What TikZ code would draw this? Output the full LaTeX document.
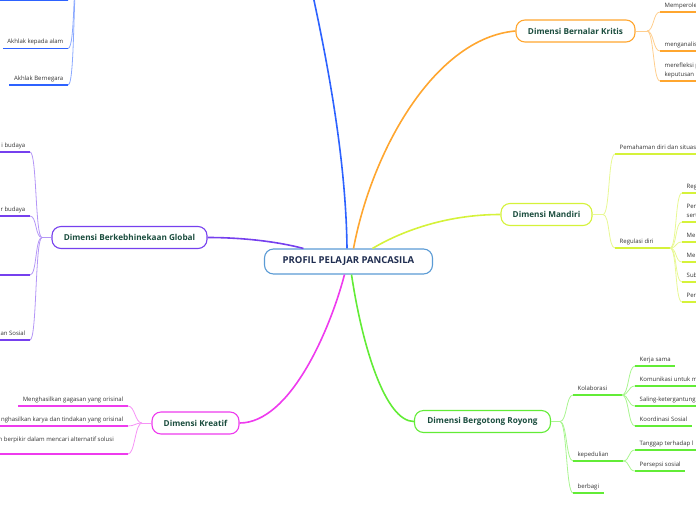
\documentclass[tikz,border=0pt]{standalone}
\usepackage{fontspec}
\setmainfont{Open Sans}
\usepackage{xcolor}
\usepackage{tikz}
\usetikzlibrary{positioning}

\definecolor{rootline}{HTML}{5B9BD5}
\definecolor{roottext}{HTML}{1F2D50}
\definecolor{dimtext}{HTML}{1B4D3E}
\definecolor{leaftext}{HTML}{333333}
\definecolor{cBlue}{HTML}{2D62FF}
\definecolor{cOrange}{HTML}{FFA62F}
\definecolor{cLime}{HTML}{D5F23A}
\definecolor{cGreen}{HTML}{62EC36}
\definecolor{cMagenta}{HTML}{EE3BEE}
\definecolor{cPurple}{HTML}{7640EE}

\begin{document}
\begin{tikzpicture}[
  x=1pt, y=-1pt,
  font=\fontsize{6}{9}\selectfont,
  root/.style={draw=rootline, line width=1.1pt, rounded corners=9pt, fill=white,
               minimum width=168pt, minimum height=25pt, inner sep=0pt,
               font=\fontsize{9.5}{11}\selectfont\bfseries, text=roottext},
  dimbox/.style={draw=#1, line width=1.1pt, rounded corners=9pt, fill=white,
               minimum height=22pt, inner sep=0pt,
               font=\fontsize{8.2}{10}\selectfont\bfseries, text=dimtext},
  leafR/.style={anchor=south west, align=left, inner xsep=4.5pt, inner ysep=3pt,
               text depth=1.5pt, text=leaftext},
  leafL/.style={leafR, anchor=south east, align=right},
  trunk/.style={draw=#1, line width=1.6pt},
  twig/.style={draw=#1!55, line width=0.8pt},
  uline/.style={draw=#1, line width=1.8pt},
]
\useasboundingbox (0,0) rectangle (696,520);
\clip (0,0) rectangle (696,520);
\coordinate (rimL) at (-5,0);
\coordinate (rimR) at (701,0);

%% --- Root ---
\node[root] (root) at (348.5,261.5) {PROFIL PELAJAR PANCASILA};

%% --- Dimensions ---
\node[dimbox=cOrange,  minimum width=119pt] (kritis)  at (575.5,31)    {Dimensi Bernalar Kritis};
\node[dimbox=cLime,    minimum width=91pt]  (mandiri) at (546.5,214.5) {Dimensi Mandiri};
\node[dimbox=cGreen,   minimum width=136pt] (gotong)  at (482.5,421.5) {Dimensi Bergotong Royong};
\node[dimbox=cMagenta, minimum width=87pt]  (kreatif) at (195.5,423)   {Dimensi Kreatif};
\node[dimbox=cPurple,  minimum width=155pt] (global)  at (129.5,237.5) {Dimensi Berkebhinekaan Global};
\coordinate (akhlak) at (305,-40);

%% --- Trunks: root -> dimensions ---
\draw[trunk=cBlue]    ([xshift=-1.5pt]root.north) .. controls (346,160) and (328,60) .. (akhlak);
\draw[trunk=cOrange]  ([xshift=5pt]root.north) .. controls (372,150) and (435,38) .. (kritis.west);
\draw[trunk=cLime]    ([xshift=24pt]root.north) .. controls (400,232) and (445,214.5) .. (mandiri.west);
\draw[trunk=cPurple]  ([xshift=-45pt]root.north) .. controls (275,241) and (240,237.5) .. (global.east);
\draw[trunk=cMagenta] ([xshift=-4pt]root.south) .. controls (330,330) and (290,423) .. (kreatif.east);
\draw[trunk=cGreen]   ([xshift=3pt]root.south) .. controls (362,345) and (385,421.5) .. (gotong.west);

%% --- Akhlak (blue, off the top) ---
\coordinate (bj) at (80,-40);
\coordinate (b0) at (68,0);
\node[leafL] (b1) at (68,48.5) {Akhlak kepada alam};
\node[leafL] (b2) at (68,85)   {Akhlak Bernegara};
\foreach \p in {b0,b1.south east,b2.south east}
  \draw[twig=cBlue] (bj) .. controls +(-8,0) and +(8,0) .. (\p);
\draw[uline=cBlue] (b0) -- (b0 -| rimL);
\draw[uline=cBlue] (b1.south east) -- (b1.south west);
\draw[uline=cBlue] (b2.south east) -- (b2.south west);

%% --- Bernalar Kritis ---
\coordinate (kj) at (647,31);
\node[leafR] (k1) at (660,12) {Memperole};
\node[leafR] (k2) at (660,51) {menganalisis};
\node[leafR] (k3) at (660,81) {merefleksi p\\keputusan};
\draw[twig=cOrange] (kritis.east) -- (kj);
\foreach \n in {k1,k2,k3} {
  \draw[twig=cOrange] (kj) .. controls +(7,0) and +(-7,0) .. (\n.south west);
  \draw[uline=cOrange] (\n.south west) -- (\n.south west -| rimR);
}

%% --- Mandiri ---
\coordinate (mj) at (603,214.5);
\coordinate (rj) at (670,248);
\node[leafR] (m1) at (615,154) {Pemahaman diri dan situasi};
\node[leafR] (m2) at (615,248) {Regulasi diri};
\draw[twig=cLime] (mandiri.east) -- (mj);
\foreach \n in {m1,m2}
  \draw[twig=cLime] (mj) .. controls +(7,0) and +(-7,0) .. (\n.south west);
\draw[uline=cLime] (m1.south west) -- (m1.south west -| rimR);
\draw[uline=cLime] (m2.south west) -- (rj);

\node[leafR] (r1) at (682,193) {Reg};
\node[leafR] (r2) at (682,222) {Pen\\sert};
\node[leafR] (r3) at (682,242) {Me};
\node[leafR] (r4) at (682,262) {Me};
\node[leafR] (r5) at (682,282) {Sub};
\node[leafR] (r6) at (682,302) {Per};
\foreach \n in {r1,r2,r3,r4,r5,r6} {
  \draw[twig=cLime] (rj) .. controls +(7,0) and +(-7,0) .. (\n.south west);
  \draw[uline=cLime] (\n.south west) -- (\n.south west -| rimR);
}

%% --- Bergotong Royong ---
\coordinate (gj) at (560,421.5);
\coordinate (kolj) at (622,395);
\coordinate (pedj) at (623,461);
\node[leafR] (g1) at (573,395) {Kolaborasi};
\node[leafR] (g2) at (573,461) {kepedulian};
\node[leafR] (g3) at (573,493) {berbagi};
\draw[twig=cGreen] (gotong.east) -- (gj);
\foreach \n in {g1,g2,g3}
  \draw[twig=cGreen] (gj) .. controls +(7,0) and +(-7,0) .. (\n.south west);
\draw[uline=cGreen] (g1.south west) -- (kolj);
\draw[uline=cGreen] (g2.south west) -- (pedj);
\draw[uline=cGreen] (g3.south west) -- (g3.south east);

\node[leafR] (h1) at (635,366) {Kerja sama};
\node[leafR] (h2) at (635,386) {Komunikasi untuk m};
\node[leafR] (h3) at (635,406) {Saling-ketergantung};
\node[leafR] (h4) at (635,426) {Koordinasi Sosial};
\foreach \n in {h1,h2,h3,h4}
  \draw[twig=cGreen] (kolj) .. controls +(7,0) and +(-7,0) .. (\n.south west);
\draw[uline=cGreen] (h1.south west) -- (h1.south east);
\draw[uline=cGreen] (h2.south west) -- (h2.south west -| rimR);
\draw[uline=cGreen] (h3.south west) -- (h3.south west -| rimR);
\draw[uline=cGreen] (h4.south west) -- (h4.south east);

\node[leafR] (p1) at (635,450) {Tanggap terhadap l};
\node[leafR] (p2) at (635,471) {Persepsi sosial};
\foreach \n in {p1,p2}
  \draw[twig=cGreen] (pedj) .. controls +(7,0) and +(-7,0) .. (\n.south west);
\draw[uline=cGreen] (p1.south west) -- (p1.south west -| rimR);
\draw[uline=cGreen] (p2.south west) -- (p2.south east);

%% --- Berkebhinekaan Global ---
\coordinate (ej) at (42,237.5);
\node[leafL] (e1) at (30,152) {i budaya};
\node[leafL] (e2) at (30,216) {r budaya};
\coordinate (e3) at (30,275);
\node[leafL] (e4) at (30,340) {an Sosial};
\draw[twig=cPurple] (global.west) -- (ej);
\foreach \p in {e1.south east,e2.south east,e3,e4.south east} {
  \draw[twig=cPurple] (ej) .. controls +(-7,0) and +(7,0) .. (\p);
  \draw[uline=cPurple] (\p) -- (\p -| rimL);
}

%% --- Kreatif ---
\coordinate (crj) at (142,423);
\node[leafL] (c1) at (128,406) {Menghasilkan gagasan yang orisinal};
\node[leafL] (c2) at (128,426) {nghasilkan karya dan tindakan yang orisinal};
\coordinate (c3) at (128,454);
\node[leafL, above left=8pt and 9.5pt of c3] (c3t) {n berpikir dalam mencari alternatif solusi};
\draw[twig=cMagenta] (kreatif.west) -- (crj);
\foreach \p in {c1.south east,c2.south east,c3}
  \draw[twig=cMagenta] (crj) .. controls +(-7,0) and +(7,0) .. (\p);
\draw[uline=cMagenta] (c1.south east) -- (c1.south west);
\draw[uline=cMagenta] (c2.south east) -- (c2.south east -| rimL);
\draw[uline=cMagenta] (c3) -- (c3 -| rimL);

\end{tikzpicture}
\end{document}
